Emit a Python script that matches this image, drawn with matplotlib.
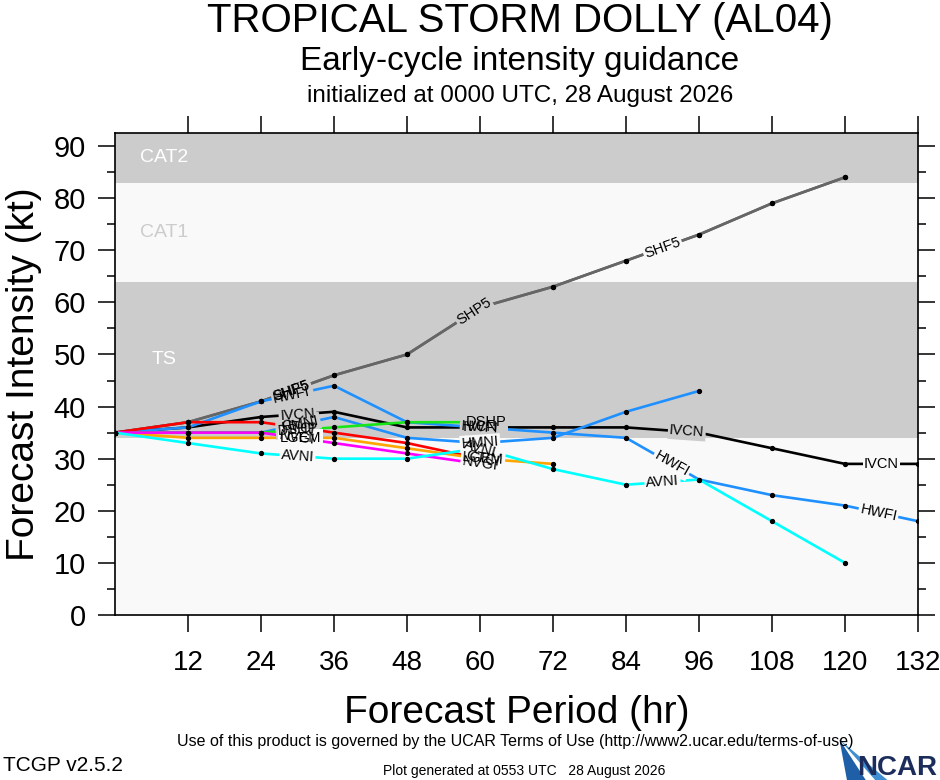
import numpy as np
import matplotlib
matplotlib.use("Agg")
import matplotlib.pyplot as plt
from matplotlib import font_manager
from matplotlib.patches import Polygon

# horas de pronostico y valores de intensidad (kt)
horas = [0, 12, 24, 36, 48, 60, 72, 84, 96, 108, 120, 132]

shf5 = [35, 37, 41, 46, 50, 59, 63, 68, 73, 79, 84]
shp5 = [35, 37, 41, 46, 50, 59, 63, 68, 73, 79, 84]
hwfi = [35, 36, 41, 44, 37, 36, 35, 34, 26, 23, 21, 18]
hmni = [35, 35, 35, 38, 34, 33, 34, 39, 43]
ivcn = [35, 36, 38, 39, 36, 36, 36, 36, 35, 32, 29, 29]
ctci = [35, 37, 37, 35, 33, 30]
dshp = [35, 35, 35, 36, 37, 37]
lgem = [35, 34, 34, 34, 32, 30, 29]
nvgi = [35, 35, 35, 33, 31, 29]
avni = [35, 33, 31, 30, 30, 32, 28, 25, 26, 18, 10]

# bandas de categoria (kt)
bandas = [("TS", 34, 64), ("CAT1", 64, 83), ("CAT2", 83, 200)]

nombres = {f.name for f in font_manager.fontManager.ttflist}
angosta = "Liberation Sans Narrow" if "Liberation Sans Narrow" in nombres else "Liberation Sans"
plt.rcParams["font.family"] = ["Liberation Sans", "DejaVu Sans"]

# modelo, valores, color, horas donde va la etiqueta
modelos = [
    ("SHF5", shf5, "#666666", [29, 90]),
    ("SHP5", shp5, "#666666", [29, 59]),
    ("IVCN", ivcn, "black", [30, 60, 94, 126]),
    ("HWFI", hwfi, "#1e90ff", [29, 60, 91.5, 125.5]),
    ("HMNI", hmni, "#1e90ff", [30.5, 60]),
    ("DSHP", dshp, "#19e619", [30, 61]),
    ("CTCI", ctci, "#ff0000", [30, 60.5]),
    ("LGEM", lgem, "#ffa500", [30.5, 60.5]),
    ("NVGI", nvgi, "#ff00ff", [30, 60]),
    ("AVNI", avni, "#00ffff", [30, 60, 90]),
]

fig = plt.figure(figsize=(9.4, 7.8), dpi=100)
ax = fig.add_axes([115 / 940, 1 - 615 / 780, 803 / 940, 482 / 780])
ax.set_xlim(0, 132)
ax.set_ylim(0, 92.5)

gris = "#cccccc"
claro = "#f9f9f9"
ax.set_facecolor(claro)
ax.axhspan(34, 64, color=gris, lw=0, zorder=0)
ax.axhspan(83, 100, color=gris, lw=0, zorder=0)
ax.text(4.1, 87.8, "CAT2", color="white", fontsize=14, va="center", zorder=1)
ax.text(4.1, 73.5, "CAT1", color=gris, fontsize=14, va="center", zorder=1)
ax.text(6.0, 49, "TS", color="white", fontsize=14, va="center", zorder=1)


def fondo(y):
    if 34.6 <= y < 64 or y >= 83:
        return gris
    return claro


for nombre, vals, color, _ in modelos:
    ax.plot(horas[:len(vals)], vals, color=color, lw=1.9, zorder=2,
            solid_capstyle="butt")

for nombre, vals, color, _ in modelos:
    ax.plot(horas[:len(vals)], vals, ls="none", marker="o", ms=2.8,
            color="black", zorder=2.5)

for nombre, vals, color, pos in modelos:
    h = np.array(horas[:len(vals)], dtype=float)
    v = np.array(vals, dtype=float)
    for hp in pos:
        yp = np.interp(hp, h, v)
        i = min(np.searchsorted(h, hp, side="right") - 1, len(h) - 2)
        p0 = ax.transData.transform((h[i], v[i]))
        p1 = ax.transData.transform((h[i + 1], v[i + 1]))
        ang = np.degrees(np.arctan2(p1[1] - p0[1], p1[0] - p0[0]))
        kw = dict(fontsize=10.5, ha="center", va="center", rotation=ang,
                  rotation_mode="anchor")
        ax.text(hp, yp, nombre, color="none", zorder=3,
                bbox=dict(boxstyle="square,pad=0.1", fc=fondo(yp), ec="none"), **kw)
        ax.text(hp, yp, nombre, color="black", zorder=4, **kw)

ax.set_xticks(horas[1:])
ax.set_yticks(range(0, 91, 10))
ax.set_yticks(range(5, 91, 10), minor=True)
ax.tick_params(axis="both", which="major", direction="out", length=12, width=1.1,
               labelsize=21, pad=9)
ax.tick_params(axis="y", which="minor", direction="out", length=6, width=1.1,
               left=True, right=True)
ax.tick_params(axis="y", which="major", right=True)
ax.tick_params(axis="x", which="major", top=True, pad=13, labelsize=20)
for s in ax.spines.values():
    s.set_linewidth(1.2)

ax.set_xlabel("Forecast Period (hr)", fontsize=28, labelpad=14)
ax.set_ylabel("Forecast Intensity (kt)", fontsize=28, labelpad=8)

fig.text(0.553, 0.973, "TROPICAL STORM DOLLY (AL04)", family=angosta,
         fontsize=29, ha="center", va="center")
fig.text(0.553, 0.921, "Early-cycle intensity guidance", family=angosta,
         fontsize=24, ha="center", va="center")
fig.text(0.553, 0.877, "initialized at 0000 UTC, 28 August 2026", family=angosta,
         fontsize=17.5, ha="center", va="center")

fig.text(0.548, 0.049, "Use of this product is governed by the UCAR Terms of Use "
         "(http://www2.ucar.edu/terms-of-use)", family=angosta, fontsize=11.5,
         ha="center", va="center")
fig.text(0.003, 0.019, "TCGP v2.5.2", family=angosta, fontsize=15,
         ha="left", va="center")
fig.text(0.558, 0.012, "Plot generated at 0553 UTC   28 August 2026", family=angosta,
         fontsize=10, ha="center", va="center")

# logo NCAR sencillo
fig.patches.append(Polygon([(0.893, 0.052), (0.944, 0.0), (0.931, 0.0)],
                           closed=True, fc="#3f8fd2", ec="none",
                           transform=fig.transFigure))
fig.patches.append(Polygon([(0.893, 0.052), (0.921, 0.0), (0.901, 0.0)],
                           closed=True, fc="#1f5fa8", ec="none",
                           transform=fig.transFigure))
fig.text(0.997, 0.016, "NCAR", family=angosta, fontsize=20, fontweight="bold",
         color="#1c2d5c", ha="right", va="center")

fig.savefig("out.png", dpi=100)
